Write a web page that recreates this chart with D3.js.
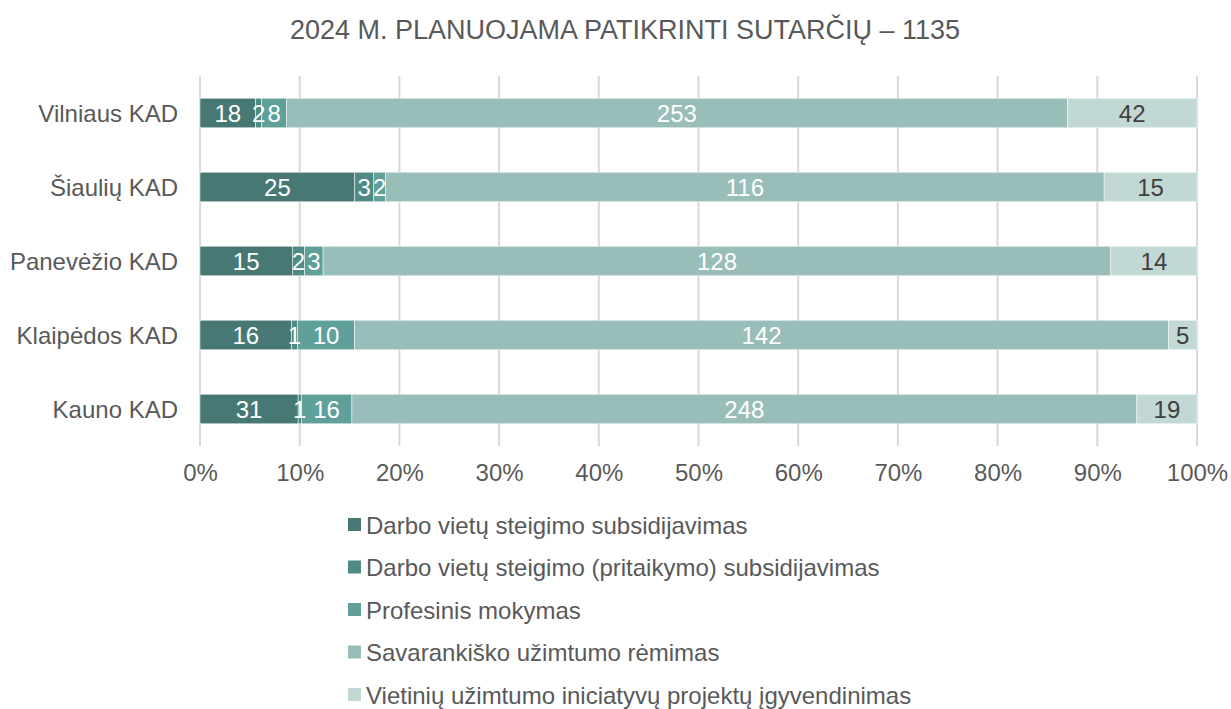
<!DOCTYPE html>
<html>
<head>
<meta charset="utf-8">
<script src="https://cdn.jsdelivr.net/npm/d3@7"></script>
<style>
  body { margin: 0; background: #fff; }
  svg text { font-family: Arial, "Liberation Sans", sans-serif; }
</style>
</head>
<body>
<svg id="chart" width="1231" height="709"></svg>
<script>
// Chart data
const regions = ['Vilniaus KAD', 'Šiaulių KAD', 'Panevėžio KAD', 'Klaipėdos KAD', 'Kauno KAD'];
const seriesNames = [
    'Darbo vietų steigimo subsidijavimas',
    'Darbo vietų steigimo (pritaikymo) subsidijavimas',
    'Profesinis mokymas',
    'Savarankiško užimtumo rėmimas',
    'Vietinių užimtumo iniciatyvų projektų įgyvendinimas'
];
const subsidijavimas = [18, 25, 15, 16, 31];
const pritaikymas = [2, 3, 2, 1, 1];
const mokymas = [8, 2, 3, 10, 16];
const savarankiskas = [253, 116, 128, 142, 248];
const vietiniai = [42, 15, 14, 5, 19];
const tickValues = [0, 0.1, 0.2, 0.3, 0.4, 0.5, 0.6, 0.7, 0.8, 0.9, 1];
const colors = ['#477873', '#4f8a84', '#5fa19a', '#99beba', '#c2d8d5'];
const labelColors = ['#fff', '#fff', '#fff', '#fff', '#404040'];

const svg = d3.select('#chart');
const margin = { top: 76, left: 200, right: 34 };
const width = 1231 - margin.left - margin.right;
const height = 370;

// Title
svg.append('text')
    .attr('x', 625)
    .attr('y', 39)
    .attr('text-anchor', 'middle')
    .style('font-size', '27px')
    .style('fill', '#595959')
    .text('2024 M. PLANUOJAMA PATIKRINTI SUTARČIŲ – 1135');

const g = svg.append('g')
    .attr('transform', `translate(${margin.left},${margin.top})`);

// Build rows from arrays
const seriesArrays = [subsidijavimas, pritaikymas, mokymas, savarankiskas, vietiniai];
const rows = regions.map((r, i) => {
    const row = { region: r };
    seriesArrays.forEach((arr, k) => { row['s' + k] = arr[i]; });
    return row;
});
const keys = seriesNames.map((d, k) => 's' + k);
const stacked = d3.stack().keys(keys).offset(d3.stackOffsetExpand)(rows);

const x = d3.scaleLinear().domain([0, 1]).range([0, width]);
const y = d3.scaleBand().domain(regions).range([0, height]).paddingInner(0.6).paddingOuter(0.3);

// Gridlines
g.selectAll('.grid')
    .data(tickValues)
    .enter()
    .append('line')
    .attr('x1', d => x(d))
    .attr('x2', d => x(d))
    .attr('y1', 0)
    .attr('y2', height)
    .style('stroke', '#d9d9d9')
    .style('stroke-width', 2);

// Bars
const layer = g.selectAll('.layer')
    .data(stacked)
    .enter()
    .append('g')
    .attr('fill', (d, k) => colors[k]);

layer.selectAll('rect')
    .data(d => d)
    .enter()
    .append('rect')
    .attr('y', d => y(d.data.region))
    .attr('height', y.bandwidth())
    .attr('x', d => x(d[0]))
    .attr('width', d => x(d[1]) - x(d[0]))
    .style('stroke', '#fff')
    .style('stroke-width', 0.5);

// Labels on bars
stacked.forEach((s, k) => {
    g.selectAll('.lbl' + k)
        .data(s)
        .enter()
        .append('text')
        .attr('x', d => (x(d[0]) + x(d[1])) / 2)
        .attr('y', d => y(d.data.region) + y.bandwidth() / 2 + 8.5)
        .attr('text-anchor', 'middle')
        .style('font-size', '24px')
        .style('fill', labelColors[k])
        .text(d => d.data[s.key]);
});

// Y axis labels
g.selectAll('.ylab')
    .data(regions)
    .enter()
    .append('text')
    .attr('x', -22)
    .attr('y', d => y(d) + y.bandwidth() / 2 + 8.5)
    .attr('text-anchor', 'end')
    .style('font-size', '24px')
    .style('fill', '#595959')
    .text(d => d);

// X axis
const xAxis = g.append('g')
    .attr('transform', `translate(0,${height})`)
    .call(d3.axisBottom(x).tickValues(tickValues).tickFormat(d3.format('.0%')).tickSize(0).tickPadding(18));
xAxis.select('.domain').remove();
xAxis.selectAll('text')
    .style('font-size', '24px')
    .style('fill', '#595959')
    .style('font-family', 'Arial, "Liberation Sans", sans-serif');

// Legend
const legend = svg.append('g').attr('transform', 'translate(348,525)');
seriesNames.forEach((name, k) => {
    const item = legend.append('g').attr('transform', `translate(0,${k * 42.5})`);
    item.append('rect')
        .attr('x', 0)
        .attr('y', -7)
        .attr('width', 13)
        .attr('height', 13)
        .attr('fill', colors[k]);
    item.append('text')
        .attr('x', 18)
        .attr('y', 8.5)
        .style('font-size', '24px')
        .style('fill', '#595959')
        .text(name);
});
</script>
</body>
</html>
